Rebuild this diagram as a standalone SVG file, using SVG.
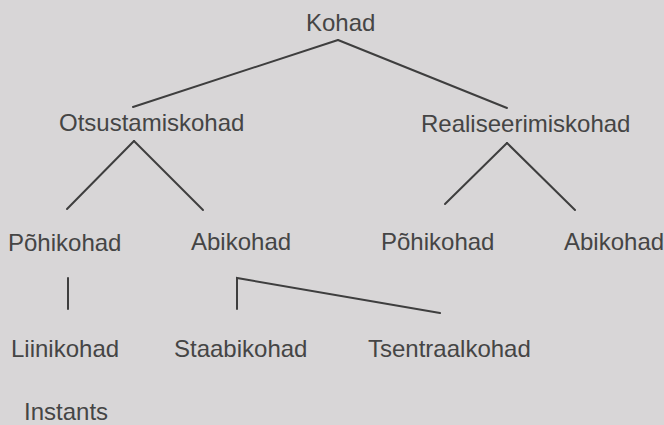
<svg xmlns="http://www.w3.org/2000/svg" width="664" height="425" viewBox="0 0 664 425">
<style>
.bg{fill:#d8d6d7}
text{font-family:"Liberation Sans",Arial,sans-serif;font-size:24px;fill:#454545}
.c{fill:none;stroke:#3e3e3e;stroke-width:2;stroke-linecap:round;stroke-linejoin:miter}
</style>
<rect class="bg" x="0" y="0" width="664" height="425"/>
<g id="connectors">
<line class="c" x1="338" y1="40" x2="133" y2="107"/>
<line class="c" x1="338" y1="40" x2="507" y2="108"/>
<line class="c" x1="134" y1="141" x2="67" y2="209"/>
<line class="c" x1="134" y1="141" x2="203" y2="210"/>
<line class="c" x1="507" y1="143" x2="445" y2="204"/>
<line class="c" x1="507" y1="143" x2="575" y2="210"/>
<line class="c" x1="68" y1="278" x2="68" y2="309"/>
<polyline class="c" points="237,309 237,278 440,313"/>
</g>
<g id="kohad"><text x="306" y="31">Kohad</text></g>
<g id="otsustamiskohad"><text x="59" y="131">Otsustamiskohad</text></g>
<g id="realiseerimiskohad"><text x="421" y="132">Realiseerimiskohad</text></g>
<g id="pohikohad1"><text x="8" y="251">Põhikohad</text></g>
<g id="abikohad1"><text x="191" y="250">Abikohad</text></g>
<g id="pohikohad2"><text x="381" y="250">Põhikohad</text></g>
<g id="abikohad2"><text x="564" y="250">Abikohad</text></g>
<g id="liinikohad"><text x="11" y="357">Liinikohad</text></g>
<g id="staabikohad"><text x="174" y="357">Staabikohad</text></g>
<g id="tsentraalkohad"><text x="368" y="357">Tsentraalkohad</text></g>
<g id="instants"><text x="24" y="420">Instants</text></g>
</svg>
